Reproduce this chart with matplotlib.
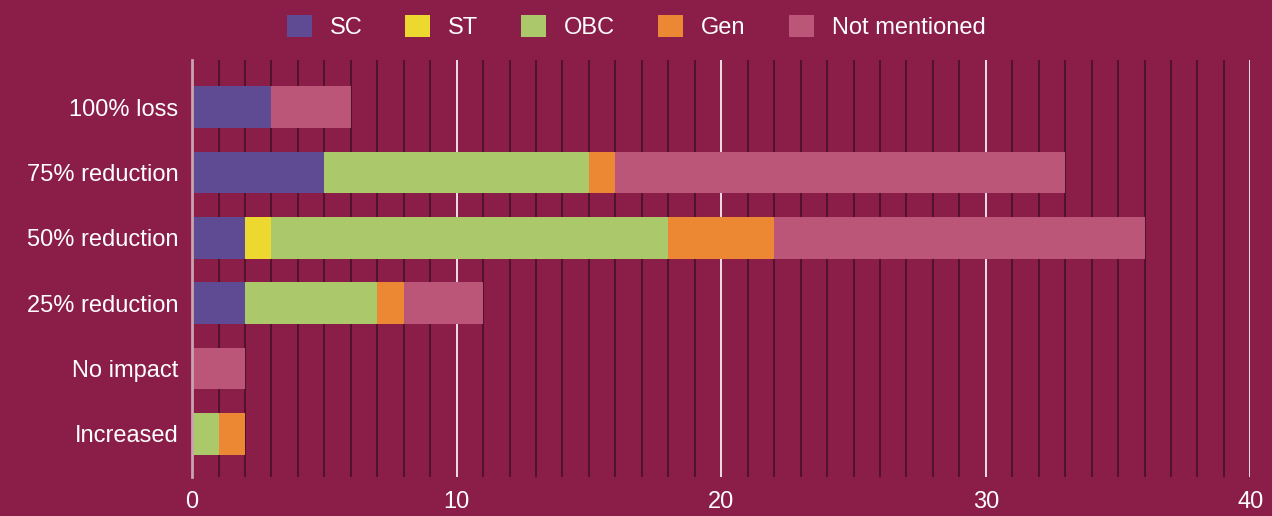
import numpy as np
import matplotlib.pyplot as plt

categories = ["100% loss", "75% reduction", "50% reduction", "25% reduction", "No impact", "Increased"]
series_names = ["SC", "ST", "OBC", "Gen", "Not mentioned"]
sc = [3, 5, 2, 2, 0, 0]
st = [0, 0, 1, 0, 0, 0]
obc = [0, 10, 15, 5, 0, 1]
gen = [0, 1, 4, 1, 0, 1]
not_mentioned = [3, 17, 14, 3, 2, 0]
x_ticks = [0, 10, 20, 30, 40]

colors = ["#5F4A94", "#EDD830", "#ABC96A", "#EC8734", "#BC5679"]
BG = "#8B1E48"

plt.rcParams['font.family'] = ['Liberation Sans', 'DejaVu Sans']

fig = plt.figure(figsize=(12.72, 5.16), dpi=100, facecolor=BG)
ax = fig.add_axes([0.151, 0.0756, 0.832, 0.808])
ax.set_facecolor(BG)

y = np.arange(len(categories))
left = np.zeros(len(categories))
for name, vals, c in zip(series_names, [sc, st, obc, gen, not_mentioned], colors):
    vals = np.array(vals, dtype=float)
    ax.barh(y, vals, left=left, height=0.64, color=c, label=name, zorder=3)
    left += vals

ax.set_xlim(0, 40)
ax.set_ylim(5.66, -0.72)
ax.set_yticks(y)
ax.set_yticklabels(categories)
ax.set_xticks(x_ticks)
ax.set_xticks(np.arange(0, 41, 1), minor=True)
ax.grid(axis="x", which="minor", color="#4a1228", linewidth=1.3, zorder=1)
ax.grid(axis="x", which="major", color="white", linewidth=1.2, zorder=1)
ax.tick_params(axis="both", which="both", length=0, colors="white", labelsize=17)
ax.tick_params(axis="x", pad=10)
ax.tick_params(axis="y", pad=10)
for s in ["top", "right", "bottom"]:
    ax.spines[s].set_visible(False)
ax.spines["left"].set_color("#c9a3ad")
ax.spines["left"].set_linewidth(2)
ax.spines["left"].set_zorder(4)

leg = fig.legend(loc="center", bbox_to_anchor=(0.5, 0.948), ncol=5, frameon=False,
                 fontsize=17, labelcolor="white", handlelength=1.06, handleheight=1.06,
                 columnspacing=1.82, handletextpad=0.76)

fig.savefig("out.png", dpi=100, facecolor=BG)
